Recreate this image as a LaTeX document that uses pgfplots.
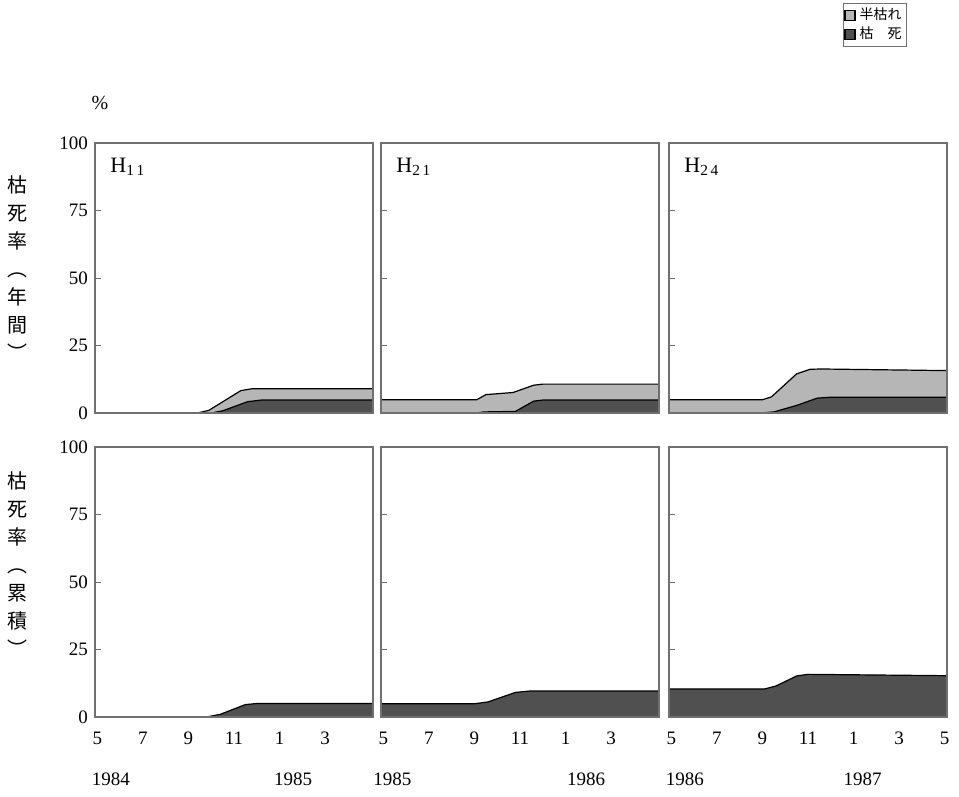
\documentclass[border=0pt]{standalone}
\usepackage{fontspec}
\setmainfont{Liberation Serif}
\newfontfamily\cjk{Noto Sans CJK JP}
\usepackage{pgfplots}
\pgfplotsset{compat=1.18}
\definecolor{lightfill}{HTML}{B6B6B6}
\definecolor{darkfill}{HTML}{505050}
\definecolor{framec}{HTML}{707070}
\tikzset{
  lt/.style={fill=lightfill, draw=black, line width=0.6pt},
  dk/.style={fill=darkfill, draw=black, line width=0.6pt},
  plab/.style={anchor=north west, font=\fontsize{11}{12}\selectfont},
  yr/.style={font=\fontsize{9.5}{11}\selectfont},
}
\pgfplotsset{
  panel/.style={
    scale only axis, width=139pt, height=135pt,
    xmin=-0.1, xmax=12.1, ymin=0, ymax=100,
    enlargelimits=false,
    ytick={0,25,50,75,100}, ytick pos=left,
    xtick={0,2,...,10}, xticklabels={5,7,9,11,1,3},
    xtick style={draw=none},
    tick align=inside, major tick length=3pt,
    ytick style={framec, line width=0.4pt},
    axis line style={framec, line width=0.8pt},
    axis on top,
    /pgf/number format/assume math mode=true,
    tick label style={font=\fontsize{9.5}{11}\selectfont},
    xticklabel style={yshift=-4pt},
    clip=false,
  },
}
\begin{document}
\begin{tikzpicture}
\path[use as bounding box] (0pt,0pt) rectangle (479.5pt,-398.5pt);
% ---------- top row (annual) ----------
\begin{axis}[panel, at={(47.5pt,-206.5pt)}, anchor=south west, xticklabels={}]
\addplot[lt] coordinates {(-0.1,0)(4.4,0)(4.9,1)(6.3,8.3)(6.8,9)(12.1,9)} \closedcycle;
\addplot[dk] coordinates {(-0.1,0)(5.0,0)(5.5,0.8)(6.6,4.2)(7.2,4.8)(12.1,4.8)} \closedcycle;
\node[plab] at (rel axis cs:0.03,0.97) {H\textsubscript{1\,1}};
\end{axis}
\begin{axis}[panel, at={(190.5pt,-206.5pt)}, anchor=south west, xticklabels={}, yticklabels={}]
\addplot[lt] coordinates {(-0.1,4.9)(4.1,4.9)(4.5,6.8)(5.7,7.6)(6.6,10.3)(7.0,10.7)(12.1,10.7)} \closedcycle;
\addplot[dk] coordinates {(-0.1,0)(4.1,0)(4.4,0.4)(5.8,0.6)(6.6,4.4)(7.0,4.8)(12.1,4.8)} \closedcycle;
\node[plab] at (rel axis cs:0.03,0.97) {H\textsubscript{2\,1}};
\end{axis}
\begin{axis}[panel, at={(334.5pt,-206.5pt)}, anchor=south west, xticklabels={}, yticklabels={},
  legend style={at={(rel axis cs:0.856,1.52)}, anchor=north east, draw=framec,
    font=\cjk\fontsize{7}{8}\selectfont, inner sep=0.5pt, row sep=-2pt,
    cells={anchor=west}},
  legend image code/.code={\draw[#1] (0pt,-2.5pt) rectangle (5pt,2.5pt);}]
\addplot[lt] coordinates {(-0.1,4.9)(4.0,4.9)(4.4,6)(5.5,14.5)(6.1,16.2)(6.6,16.3)(12.1,15.7)} \closedcycle;
\addlegendentry{半枯れ}
\addplot[dk] coordinates {(-0.1,0)(3.9,0)(4.5,0.4)(5.5,2.8)(6.4,5.5)(6.9,5.8)(12.1,5.8)} \closedcycle;
\addlegendentry{枯　死}
\node[plab] at (rel axis cs:0.03,0.97) {H\textsubscript{2\,4}};
\end{axis}
% ---------- bottom row (cumulative) ----------
\begin{axis}[panel, at={(47.5pt,-358.5pt)}, anchor=south west]
\addplot[dk] coordinates {(-0.1,0)(4.8,0)(5.4,1)(6.5,4.6)(7.0,5)(12.1,5)} \closedcycle;
\node[yr] at (axis cs:0.6,0) [yshift=-31pt] {1984};
\node[yr] at (axis cs:8.6,0) [yshift=-31pt] {1985};
\end{axis}
\begin{axis}[panel, at={(190.5pt,-358.5pt)}, anchor=south west, yticklabels={}]
\addplot[dk] coordinates {(-0.1,4.9)(4.0,4.9)(4.6,5.6)(5.8,9.1)(6.4,9.6)(12.1,9.6)} \closedcycle;
\node[yr] at (axis cs:0.4,0) [yshift=-31pt] {1985};
\node[yr] at (axis cs:8.9,0) [yshift=-31pt] {1986};
\end{axis}
\begin{axis}[panel, at={(334.5pt,-358.5pt)}, anchor=south west, yticklabels={},
  xtick={0,2,...,12}, xticklabels={5,7,9,11,1,3,5}]
\addplot[dk] coordinates {(-0.1,10.4)(4.1,10.4)(4.6,11.5)(5.5,15.2)(6.0,15.8)(12.1,15.3)} \closedcycle;
\node[yr] at (axis cs:0.6,0) [yshift=-31pt] {1986};
\node[yr] at (axis cs:8.4,0) [yshift=-31pt] {1987};
\end{axis}
% ---------- outer labels ----------
\node[font=\fontsize{10}{12}\selectfont] at (50pt,-51.5pt) {\%};
\node[align=center, font=\cjk\fontsize{10}{14}\selectfont] at (9pt,-134pt) {枯\\死\\率\\︵\\年\\間\\︶};
\node[align=center, font=\cjk\fontsize{10}{14}\selectfont] at (9pt,-282pt) {枯\\死\\率\\︵\\累\\積\\︶};
\end{tikzpicture}
\end{document}
